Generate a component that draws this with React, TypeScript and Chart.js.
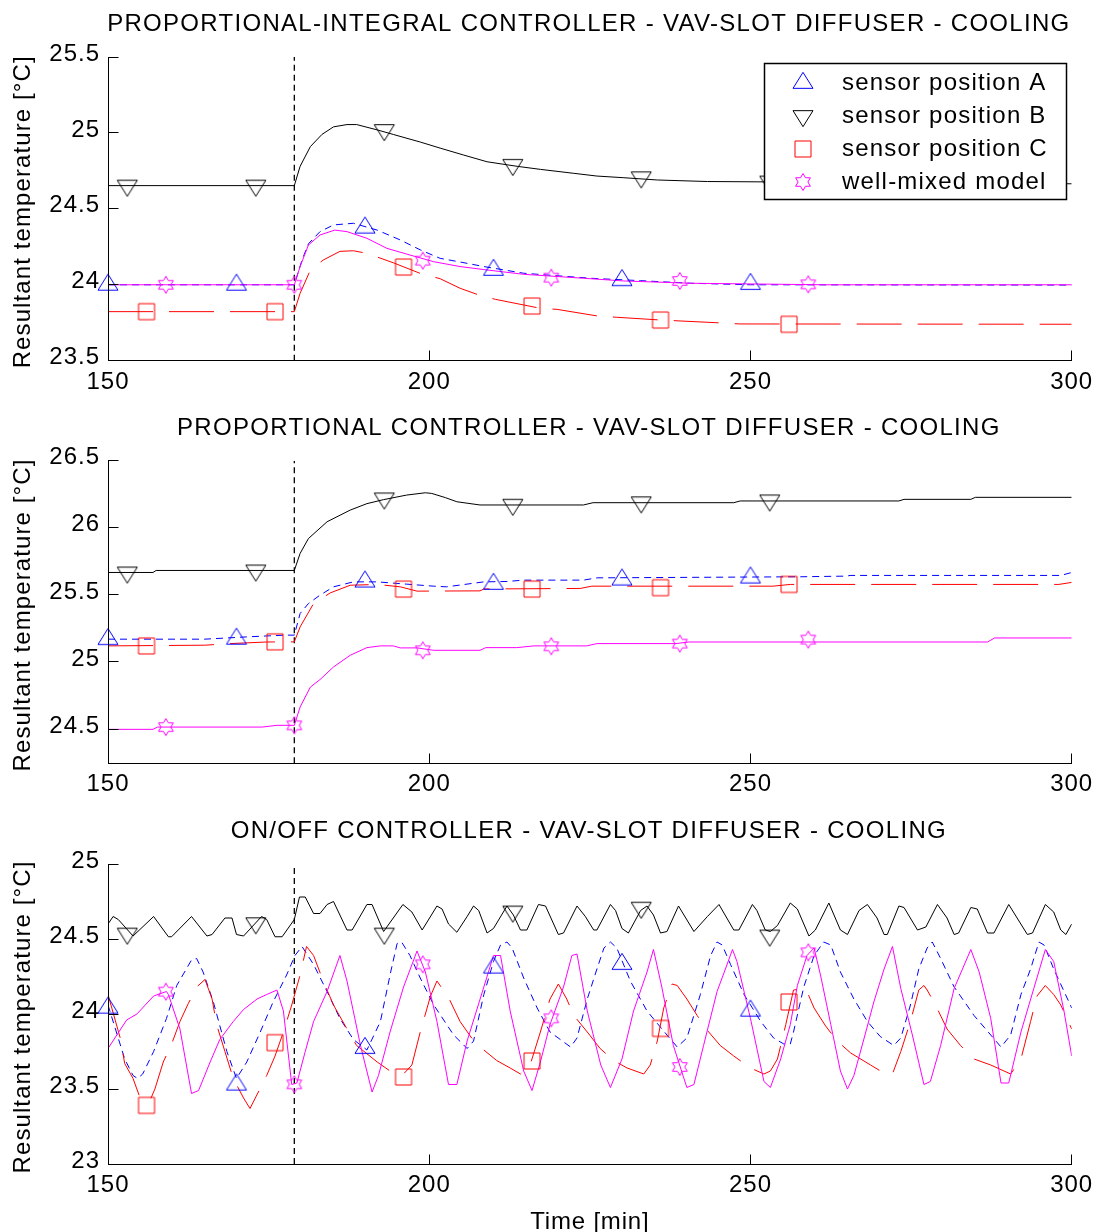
import React, { useEffect, useRef } from "react";
import { Chart, registerables } from "chart.js";

Chart.register(...registerables);

const FONT = '"Liberation Sans", Arial, Helvetica, sans-serif';
const BLUE = "#0000ff";
const BLACK = "#000000";
const RED = "#ff0000";
const MAGENTA = "#ff00ff";

const X_MIN = 150;
const X_MAX = 300;
const X_TICKS = [150, 200, 250, 300];
const STEP_T = 179;
const Y_LABEL = "Resultant temperature [°C]";
const X_LABEL = "Time [min]";
const LEGEND_LABELS = ["sensor position A", "sensor position B", "sensor position C", "well-mixed model"];

// marker times
const MK_T_A = [150, 170, 190, 210, 230, 250];
const MK_T_B = [153, 173, 193, 213, 233, 253];
const MK_T_C = [156, 176, 196, 216, 236, 256];
const MK_T_W = [159, 179, 199, 219, 239, 259];

// ---------- Panel 1 : PI controller ----------
const P1_TITLE = "PROPORTIONAL-INTEGRAL CONTROLLER - VAV-SLOT DIFFUSER - COOLING";
const P1_Y_TICKS = [23.5, 24, 24.5, 25, 25.5];
const P1_A = [[150,24.0],[179,24.0],[180.2,24.163],[181.2,24.27],[183,24.35],[185.1,24.394],[188.2,24.405],[191.9,24.36],[195.5,24.295],[198.6,24.23],[201.7,24.174],[204.8,24.15],[208.5,24.12],[214.7,24.076],[225.1,24.043],[232.9,24.027],[240.7,24.01],[250,24.0],[300,23.998]];
const P1_B = [[150,24.653],[179,24.653],[179.9,24.78],[181.5,24.91],[183.3,24.99],[185.1,25.04],[187.2,25.055],[188.7,25.055],[191.9,25.02],[194.4,24.99],[198.6,24.94],[201.7,24.9],[205.3,24.855],[209,24.81],[213.7,24.78],[217.3,24.76],[222.5,24.734],[226.1,24.716],[230.3,24.705],[235.5,24.69],[243.3,24.68],[300,24.665]];
const P1_C = [[150,23.823],[179,23.823],[179.9,23.944],[181.5,24.097],[183.5,24.163],[186.1,24.22],[188.2,24.224],[190.3,24.207],[194.4,24.145],[198.6,24.075],[201.7,24.04],[204.8,23.977],[207.9,23.93],[210.3,23.904],[217.3,23.845],[219.9,23.838],[226.1,23.795],[229.2,23.786],[236,23.768],[244.8,23.75],[248.4,23.742],[300,23.74]];
const P1_W = [[150,24.0],[179,24.0],[179.9,24.12],[181.2,24.262],[183,24.328],[185.3,24.36],[187.2,24.35],[190.3,24.306],[193.4,24.24],[197,24.196],[200.7,24.152],[204.8,24.12],[208.5,24.1],[214.7,24.069],[224,24.043],[230.3,24.025],[240.7,24.01],[261.4,24.0],[300,24.0]];
const P1_MK_A = [24.0, 24.0, 24.376, 24.098, 24.03, 24.005];
const P1_MK_B = [24.653, 24.653, 25.019, 24.79, 24.708, 24.68];
const P1_MK_C = [23.823, 23.823, 24.117, 23.86, 23.768, 23.74];
const P1_MK_W = [24.0, 24.0, 24.159, 24.047, 24.025, 24.003];

// ---------- Panel 2 : P controller ----------
const P2_TITLE = "PROPORTIONAL CONTROLLER - VAV-SLOT DIFFUSER - COOLING";
const P2_Y_TICKS = [24.5, 25, 25.5, 26, 26.5];
const P2_A = [[150,25.17],[165,25.17],[171.6,25.187],[174.7,25.194],[177.6,25.2],[179,25.2],[179.9,25.361],[181.2,25.436],[183,25.498],[185.1,25.56],[188.2,25.597],[191.9,25.597],[196.5,25.58],[200.7,25.565],[202.7,25.56],[208.5,25.597],[212.1,25.6],[214.7,25.61],[224,25.61],[226.1,25.627],[257.8,25.635],[265,25.64],[265.5,25.645],[298.3,25.645],[300,25.667]];
const P2_B = [[150,25.667],[157,25.667],[157.5,25.682],[179,25.682],[179.9,25.809],[181.2,25.92],[184.1,26.045],[187.7,26.132],[190.3,26.18],[192.9,26.21],[196.5,26.244],[199.4,26.261],[200.4,26.256],[202.5,26.225],[204.3,26.194],[207.9,26.17],[224,26.17],[225.5,26.187],[247.4,26.187],[248.4,26.2],[273.1,26.2],[273.9,26.212],[284.3,26.212],[285,26.227],[300,26.227]];
const P2_C = [[150,25.12],[165,25.125],[169,25.137],[174.7,25.149],[179,25.15],[179.9,25.261],[182,25.436],[184.6,25.515],[187.7,25.572],[191.9,25.578],[195.5,25.56],[198.1,25.528],[207.9,25.53],[208.5,25.544],[223.5,25.548],[225.3,25.565],[253.5,25.565],[256.2,25.578],[298,25.578],[300,25.593]];
const P2_W = [[150,24.498],[157,24.498],[157.7,24.515],[174,24.515],[176.3,24.528],[179,24.528],[179.9,24.664],[181.5,24.813],[183,24.869],[185.1,24.963],[187.7,25.05],[190.3,25.107],[192.4,25.12],[194.4,25.12],[195.5,25.105],[198.1,25.105],[200.7,25.087],[207.9,25.087],[208.8,25.107],[213.6,25.107],[216.3,25.12],[224.5,25.12],[226.1,25.137],[238.4,25.137],[240.4,25.149],[286.9,25.149],[288,25.179],[300,25.179]];
const P2_MK_A = [25.17, 25.173, 25.599, 25.582, 25.614, 25.629];
const P2_MK_B = [25.667, 25.682, 26.219, 26.172, 26.19, 26.204];
const P2_MK_C = [25.12, 25.15, 25.543, 25.543, 25.554, 25.578];
const P2_MK_W = [24.515, 24.528, 25.087, 25.117, 25.137, 25.167];

// ---------- Panel 3 : ON/OFF controller ----------
const P3_TITLE = "ON/OFF CONTROLLER - VAV-SLOT DIFFUSER - COOLING";
const P3_Y_TICKS = [23, 23.5, 24, 24.5, 25];
const P3_A = [[150,24.06],[152.6,23.7],[153.9,23.59],[154.6,23.57],[155.4,23.6],[157.1,23.75],[159.1,23.97],[160.7,24.19],[163,24.36],[163.8,24.37],[164.8,24.28],[166.4,24.08],[168.5,23.75],[170,23.57],[171.6,23.68],[173.7,23.88],[175.7,24.08],[177.8,24.26],[179.1,24.39],[180.2,24.45],[182,24.33],[184.1,24.15],[186.1,23.97],[188.2,23.83],[190.3,23.76],[192.4,23.95],[194,24.28],[195,24.47],[195.7,24.48],[197,24.39],[198.6,24.24],[200.7,24.06],[203.8,23.86],[205.9,23.77],[206.9,23.82],[208.5,24.13],[210,24.35],[211.1,24.46],[212.1,24.48],[212.9,24.44],[214.7,24.24],[216.8,24.04],[218.8,23.88],[222,23.78],[223,23.84],[224.6,24.1],[226.1,24.3],[227.2,24.44],[228.2,24.48],[229.2,24.44],[231.3,24.22],[233.9,24.02],[237,23.86],[238.6,23.78],[240.1,23.84],[242.2,24.13],[243.8,24.39],[244.8,24.48],[245.6,24.46],[246.9,24.33],[249,24.13],[251.6,23.95],[253.6,23.84],[255.2,23.8],[256.2,23.8],[256.7,23.88],[258.3,24.18],[259.9,24.39],[261.4,24.48],[262.5,24.46],[264,24.28],[266.1,24.1],[268.2,23.95],[270.2,23.85],[272.3,23.79],[273.4,23.84],[274.9,24.06],[276.2,24.3],[277.5,24.44],[278.3,24.48],[279.6,24.37],[281.7,24.18],[284.8,23.99],[287.4,23.86],[289,23.78],[290.5,23.86],[292.1,24.13],[293.6,24.3],[294.9,24.48],[295.7,24.46],[297.2,24.3],[300,24.04]];
const P3_B = [[150,24.6],[150.8,24.65],[151.6,24.63],[153.9,24.52],[157.1,24.65],[159.4,24.515],[159.9,24.515],[163,24.65],[165.4,24.52],[166.2,24.53],[168.2,24.64],[169.3,24.64],[170,24.53],[171.1,24.52],[173.9,24.65],[174.7,24.63],[176,24.515],[177.1,24.515],[179,24.63],[179.8,24.78],[180.7,24.78],[182,24.67],[183,24.67],[184.1,24.73],[185.1,24.75],[187.2,24.56],[188,24.56],[190.3,24.73],[191.1,24.73],[192.9,24.55],[195.9,24.73],[197.3,24.68],[198.9,24.56],[201.2,24.72],[202,24.7],[203,24.6],[204.3,24.545],[205.9,24.65],[206.9,24.72],[207.7,24.69],[209,24.54],[210,24.57],[212.1,24.72],[213.1,24.66],[214.2,24.56],[215.2,24.56],[217,24.73],[218.1,24.72],[220.1,24.53],[220.9,24.54],[223,24.72],[224.3,24.65],[225.6,24.56],[226.1,24.56],[228.2,24.73],[229,24.69],[230,24.57],[231,24.54],[232.9,24.69],[233.9,24.72],[234.9,24.66],[236,24.54],[237,24.55],[238.8,24.72],[241.2,24.55],[243.3,24.65],[245.1,24.73],[247.4,24.56],[248.2,24.56],[250.3,24.73],[251,24.69],[252.3,24.56],[253.1,24.55],[254.2,24.59],[256.2,24.74],[257.3,24.7],[259.1,24.52],[260.1,24.56],[262.2,24.74],[264,24.56],[265.1,24.53],[266.9,24.69],[268.2,24.73],[269.7,24.64],[270.8,24.53],[271.3,24.53],[273.1,24.72],[273.9,24.71],[276,24.56],[277.3,24.58],[279.1,24.73],[280.6,24.64],[281.7,24.53],[282.4,24.54],[284.3,24.71],[285.3,24.7],[286.9,24.54],[287.9,24.54],[290.2,24.73],[293.1,24.53],[293.9,24.54],[295.9,24.73],[297.2,24.68],[298.3,24.56],[299.1,24.53],[300,24.6]];
const P3_C = [[150,24.13],[151.9,23.84],[152.6,23.67],[153.9,23.57],[155,23.44],[156.5,23.42],[157.3,23.5],[158.6,23.68],[159.9,23.8],[161.2,23.95],[162.5,24.07],[163.8,24.18],[165.1,24.23],[166.2,24.1],[166.9,23.93],[168.2,23.75],[169.5,23.57],[171.1,23.44],[172.1,23.37],[173.4,23.48],[174.7,23.59],[176,23.72],[177.3,23.88],[178.6,24.06],[179.9,24.26],[180.9,24.45],[182,24.39],[183.5,24.22],[185.1,24.06],[187.2,23.9],[188.7,23.79],[191.9,23.68],[193.9,23.62],[196,23.6],[197.3,23.66],[198.6,23.88],[200.2,24.12],[201.2,24.22],[203,24.11],[204.8,23.95],[206.6,23.84],[208.5,23.76],[210.5,23.69],[212.6,23.64],[214.2,23.6],[215.7,23.66],[217.3,23.88],[218.8,24.1],[220.1,24.2],[221.4,24.1],[222.5,23.99],[224.6,23.88],[226.6,23.77],[228.7,23.69],[230.8,23.64],[233.4,23.6],[234.4,23.66],[235.5,23.82],[236.5,24.04],[237.8,24.2],[238.6,24.19],[240.1,24.1],[241.7,23.99],[243.3,23.89],[245.3,23.79],[247.4,23.72],[250,23.64],[252.1,23.6],[253.1,23.62],[254.2,23.7],[255.5,23.93],[256.7,24.16],[258.6,24.17],[259.9,24.04],[261.7,23.92],[263.5,23.82],[265.6,23.74],[268.7,23.66],[271,23.6],[272.1,23.6],[273.4,23.75],[274.9,23.95],[276.2,24.16],[277,24.19],[277.5,24.16],[278.8,24.06],[280.6,23.9],[282.7,23.79],[284.8,23.7],[287.4,23.66],[290.5,23.6],[292.1,23.7],[293.6,23.95],[294.6,24.12],[295.9,24.19],[297.2,24.13],[298.3,24.06],[300,23.9]];
const P3_W = [[150,23.77],[152.9,23.96],[154.5,24.0],[157.1,24.12],[159.1,24.15],[159.4,24.13],[161.2,23.9],[163,23.47],[164.1,23.49],[165.9,23.68],[167.4,23.83],[169.5,23.95],[171.1,24.03],[173.2,24.1],[174.7,24.13],[176.3,24.16],[177.3,24.02],[178.6,23.53],[179.4,23.54],[180.7,23.75],[182,23.95],[184.1,24.15],[186.1,24.39],[187.2,24.22],[189.3,23.79],[191.1,23.48],[192.1,23.59],[193.9,23.88],[196,24.18],[198.1,24.42],[199.4,24.28],[201.2,23.95],[203,23.53],[204.3,23.53],[205.9,23.82],[208.5,24.18],[210,24.39],[211.1,24.39],[212.6,24.02],[214.7,23.62],[216,23.49],[217.3,23.68],[218.8,23.93],[220.9,24.18],[222.2,24.39],[223,24.4],[224.6,24.02],[226.7,23.66],[228.2,23.51],[230,23.7],[231.8,24.02],[233.9,24.28],[234.9,24.43],[236.2,24.18],[238,23.79],[240.1,23.51],[241.2,23.53],[242.7,23.79],[244.8,24.15],[246.1,24.3],[247.2,24.43],[247.9,24.35],[250,23.97],[252.1,23.55],[253.1,23.51],[254.7,23.7],[256.2,23.93],[257.3,24.19],[258.8,24.39],[259.9,24.44],[260.9,24.26],[262.5,23.93],[264,23.62],[265.1,23.5],[266.1,23.59],[267.7,23.84],[269.2,24.08],[270.8,24.3],[272.1,24.45],[273.4,24.17],[275.2,23.86],[277,23.53],[278,23.55],[279.6,23.79],[281.7,24.17],[284.3,24.43],[285.6,24.28],[287.4,23.97],[289,23.54],[290.2,23.54],[292.1,23.88],[294.1,24.17],[295.9,24.43],[297.2,24.35],[298.8,24.02],[300,23.72]];
const P3_MK_A = [24.042, 23.529, 23.773, 24.309, 24.333, 24.022];
const P3_MK_B = [24.536, 24.605, 24.536, 24.683, 24.709, 24.523];
const P3_MK_C = [23.391, 23.809, 23.58, 23.687, 23.904, 24.08];
const P3_MK_W = [24.149, 23.531, 24.331, 23.971, 23.647, 24.411];

// layout (positions only)
const PANELS = [
  { title: P1_TITLE, yMin: 23.5, yMax: 25.5, yTicks: P1_Y_TICKS, A: P1_A, B: P1_B, C: P1_C, W: P1_W,
    mA: P1_MK_A, mB: P1_MK_B, mC: P1_MK_C, mW: P1_MK_W, legend: true, xTitle: false,
    top: 0, height: 404, padTop: 57, xH: 43.3 },
  { title: P2_TITLE, yMin: 24.245, yMax: 26.5, yTicks: P2_Y_TICKS, A: P2_A, B: P2_B, C: P2_C, W: P2_W,
    mA: P2_MK_A, mB: P2_MK_B, mC: P2_MK_C, mW: P2_MK_W, legend: false, xTitle: false,
    top: 404, height: 404, padTop: 56.7, xH: 44.7 },
  { title: P3_TITLE, yMin: 23, yMax: 25, yTicks: P3_Y_TICKS, A: P3_A, B: P3_B, C: P3_C, W: P3_W,
    mA: P3_MK_A, mB: P3_MK_B, mC: P3_MK_C, mW: P3_MK_W, legend: false, xTitle: true,
    top: 808, height: 424, padTop: 56, xH: 68 },
];

function makeMarker(kind: string, color: string): HTMLCanvasElement {
  const S = 28;
  const c = document.createElement("canvas");
  c.width = S; c.height = S;
  const g = c.getContext("2d") as CanvasRenderingContext2D;
  g.strokeStyle = color; g.lineWidth = 1;
  const cx = S / 2, cy = S / 2;
  const w = 10, h = 16;
  g.beginPath();
  if (kind === "up") {
    g.moveTo(cx, cy - (2 * h) / 3); g.lineTo(cx + w, cy + h / 3); g.lineTo(cx - w, cy + h / 3); g.closePath();
  } else if (kind === "down") {
    g.moveTo(cx, cy + (2 * h) / 3); g.lineTo(cx + w, cy - h / 3); g.lineTo(cx - w, cy - h / 3); g.closePath();
  } else if (kind === "square") {
    g.rect(cx - 8, cy - 8, 16, 16);
  } else {
    const R = 8.5, r = R / Math.sqrt(3);
    for (let i = 0; i < 12; i++) {
      const ang = -Math.PI / 2 + (i * Math.PI) / 6;
      const rr = i % 2 === 0 ? R : r;
      const px = cx + rr * Math.cos(ang), py = cy + rr * Math.sin(ang);
      if (i === 0) g.moveTo(px, py); else g.lineTo(px, py);
    }
    g.closePath();
  }
  g.stroke();
  return c;
}

const toXY = (pts: number[][]) => pts.map(([x, y]) => ({ x, y }));
const mk = (ts: number[], vs: number[]) => ts.map((t, i) => ({ x: t, y: vs[i] }));

function buildConfig(p: any, imgs: any) {
  const line = (pts: number[][], color: string, dash: number[]) => ({
    type: "line", data: toXY(pts), borderColor: color, borderWidth: 1, borderDash: dash,
    pointRadius: 0, fill: false, tension: 0,
  });
  const marks = (ts: number[], vs: number[], img: HTMLCanvasElement, color: string) => ({
    type: "line", data: mk(ts, vs), showLine: false, pointStyle: img, pointRadius: 9,
    borderColor: color, backgroundColor: color, clip: false,
  });
  const datasets = [
    marks(MK_T_W, p.mW, imgs.hex, MAGENTA),
    marks(MK_T_C, p.mC, imgs.square, RED),
    marks(MK_T_B, p.mB, imgs.down, BLACK),
    marks(MK_T_A, p.mA, imgs.up, BLUE),
    line(p.W, MAGENTA, []),
    line(p.C, RED, [45, 16]),
    line(p.B, BLACK, []),
    line(p.A, BLUE, [7, 5]),
    { type: "line", data: [{ x: STEP_T, y: p.yMin }, { x: STEP_T, y: p.yMax }], borderColor: BLACK,
      borderWidth: 1.3, borderDash: [6, 4], pointRadius: 0, fill: false },
  ];

  const decor = {
    id: "decor",
    beforeDraw(chart: any) { chart.ctx.letterSpacing = "1px"; },
    afterDraw(chart: any) {
      const { ctx, chartArea: a } = chart;
      const xs = chart.scales.x, ys = chart.scales.y;
      ctx.save();
      ctx.setLineDash([]);
      ctx.strokeStyle = "#000"; ctx.lineWidth = 1;
      const L = Math.floor(a.left) + 0.5;
      const B = Math.floor(a.bottom) + 0.5;
      const T = Math.floor(a.top);
      const R = Math.floor(a.right) + 1;
      ctx.beginPath();
      ctx.moveTo(L, T); ctx.lineTo(L, B + 0.5);
      ctx.moveTo(L - 0.5, B); ctx.lineTo(R, B);
      for (const v of p.yTicks) {
        const y = Math.floor(ys.getPixelForValue(v)) + 0.5;
        ctx.moveTo(L, y); ctx.lineTo(L + 10, y);
      }
      for (const v of X_TICKS) {
        const x = Math.floor(xs.getPixelForValue(v)) + 0.5;
        ctx.moveTo(x, B); ctx.lineTo(x, B - 10);
      }
      ctx.stroke();

      ctx.fillStyle = "#000";
      ctx.font = `24px ${FONT}`;
      ctx.textBaseline = "alphabetic";
      ctx.textAlign = "center";
      ctx.letterSpacing = "1.3px";
      ctx.fillText(p.title, (a.left + a.right) / 2 - 1, a.top - 26);

      ctx.save();
      ctx.letterSpacing = "1.1px";
      ctx.translate(30, (a.top + a.bottom) / 2 + 3);
      ctx.rotate(-Math.PI / 2);
      ctx.fillText(Y_LABEL, 0, 0);
      ctx.restore();

      if (p.xTitle) {
        ctx.letterSpacing = "0.8px";
        ctx.fillText(X_LABEL, (a.left + a.right) / 2, a.bottom + 65);
      }

      if (p.legend) {
        const bR = Math.round(a.right - 6);
        const bL = bR - 302;
        const bT = Math.round(a.top + 6);
        const bH = 136;
        ctx.fillStyle = "#fff";
        ctx.fillRect(bL, bT, 302, bH);
        ctx.strokeStyle = "#000";
        ctx.lineWidth = 1.5;
        ctx.strokeRect(bL + 0.5, bT + 0.5, 302, bH);
        const list = [imgs.up, imgs.down, imgs.square, imgs.hex];
        ctx.fillStyle = "#000";
        ctx.textAlign = "left";
        ctx.letterSpacing = "1.2px";
        for (let i = 0; i < 4; i++) {
          const cy = Math.round(bT + 19.5 + 33 * i);
          const cx = bL + 39;
          ctx.drawImage(list[i], cx - 14, cy - 14);
          ctx.fillText(LEGEND_LABELS[i], bL + 78, cy + 7);
        }
      }
      ctx.restore();
    },
  };

  return {
    type: "line",
    data: { datasets },
    plugins: [decor],
    options: {
      animation: false,
      responsive: false,
      devicePixelRatio: 1,
      events: [],
      layout: { padding: { left: 0, right: 24.3, top: p.padTop, bottom: 0 } },
      plugins: { legend: { display: false }, tooltip: { enabled: false }, title: { display: false } },
      scales: {
        x: {
          type: "linear", min: X_MIN, max: X_MAX,
          afterBuildTicks: (s: any) => { s.ticks = X_TICKS.map((v) => ({ value: v })); },
          afterFit: (s: any) => { s.height = p.xH; s.paddingLeft = 0; s.paddingRight = 0; },
          grid: { display: false, drawTicks: false },
          border: { display: false },
          ticks: { color: "#000", font: { family: FONT, size: 24 }, padding: 7, maxRotation: 0, autoSkip: false,
            callback: (v: any) => String(v) },
        },
        y: {
          type: "linear", min: p.yMin, max: p.yMax,
          afterBuildTicks: (s: any) => { s.ticks = p.yTicks.map((v: number) => ({ value: v })); },
          afterFit: (s: any) => { s.width = 108; s.paddingTop = 0; s.paddingBottom = 0; },
          grid: { display: false, drawTicks: false },
          border: { display: false },
          ticks: { color: "#000", font: { family: FONT, size: 24 }, padding: 8, labelOffset: -3, autoSkip: false,
            callback: (v: any) => String(v) },
        },
      },
    },
  };
}

function Panel({ p }: { p: any }) {
  const ref = useRef<HTMLCanvasElement>(null);
  useEffect(() => {
    const imgs = {
      up: makeMarker("up", BLUE),
      down: makeMarker("down", BLACK),
      square: makeMarker("square", RED),
      hex: makeMarker("hex", MAGENTA),
    };
    const chart = new Chart(ref.current as HTMLCanvasElement, buildConfig(p, imgs) as any);
    return () => chart.destroy();
  }, []);
  return (
    <canvas ref={ref} width={1096} height={p.height}
      style={{ position: "absolute", left: 0, top: p.top, width: 1096, height: p.height, display: "block" }} />
  );
}

export default function App() {
  return (
    <div style={{ position: "absolute", left: 0, top: 0, width: 1096, height: 1232, background: "#fff", overflow: "hidden" }}>
      {PANELS.map((p, i) => <Panel key={i} p={p} />)}
    </div>
  );
}
